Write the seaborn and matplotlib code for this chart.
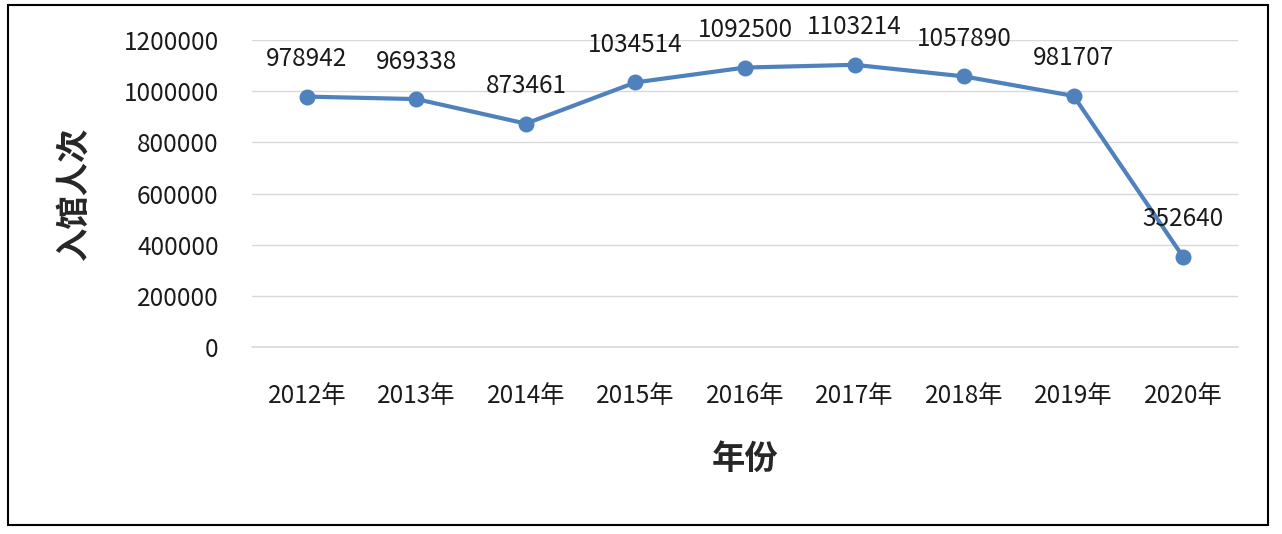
import pandas as pd
import matplotlib.pyplot as plt
import seaborn as sns
from matplotlib.patches import Rectangle

years = ['2012年', '2013年', '2014年', '2015年', '2016年', '2017年', '2018年', '2019年', '2020年']
visits = [978942, 969338, 873461, 1034514, 1092500, 1103214, 1057890, 981707, 352640]
y_ticks = [0, 200000, 400000, 600000, 800000, 1000000, 1200000]

df = pd.DataFrame({'year': years, 'visits': visits})

sns.set_theme(style='whitegrid')
plt.rcParams['font.family'] = ['Noto Sans CJK SC', 'DejaVu Sans']

fig = plt.figure(figsize=(12.82, 5.34), dpi=100)
ax = fig.add_axes([0.1966, 0.350, 0.769, 0.575])

sns.lineplot(data=df, x='year', y='visits', ax=ax, color='#4f81bd',
             linewidth=3, marker='o', markersize=11.5, markeredgewidth=0,
             sort=False)

# data labels above each point
for i, v in enumerate(visits):
    ax.annotate(str(v), (i, v), xytext=(0, 27), textcoords='offset points',
                ha='center', va='center', fontsize=17.5, color='#1a1a1a',
                annotation_clip=False)

ax.set_xlim(-0.5, len(years) - 0.5)
ax.set_ylim(0, 1200000)
ax.set_yticks(y_ticks)
ax.set_yticklabels([str(t) for t in y_ticks])
ax.grid(axis='y', color='#d9d9d9', linewidth=1)
ax.grid(axis='x', visible=False)
ax.axhline(0, color='#d9d9d9', linewidth=1.2, clip_on=False, zorder=0)
for s in ax.spines.values():
    s.set_visible(False)
ax.tick_params(axis='y', length=0, pad=24, labelsize=17.5, labelcolor='#1a1a1a')
ax.tick_params(axis='x', length=0, pad=26, labelsize=17.5, labelcolor='#1a1a1a')

ax.set_xlabel('年份', fontsize=24, fontweight='bold', labelpad=24)
ax.set_ylabel('入馆人次', fontsize=24, fontweight='bold', labelpad=24)
ax.set_facecolor('white')

# outer frame
fig.patches.append(Rectangle((8 / 1282, 1 - 525 / 534), 1260 / 1282, 520 / 534,
                             transform=fig.transFigure, fill=False,
                             edgecolor='black', linewidth=1.5))

fig.savefig('out.png', dpi=100, facecolor='white')
